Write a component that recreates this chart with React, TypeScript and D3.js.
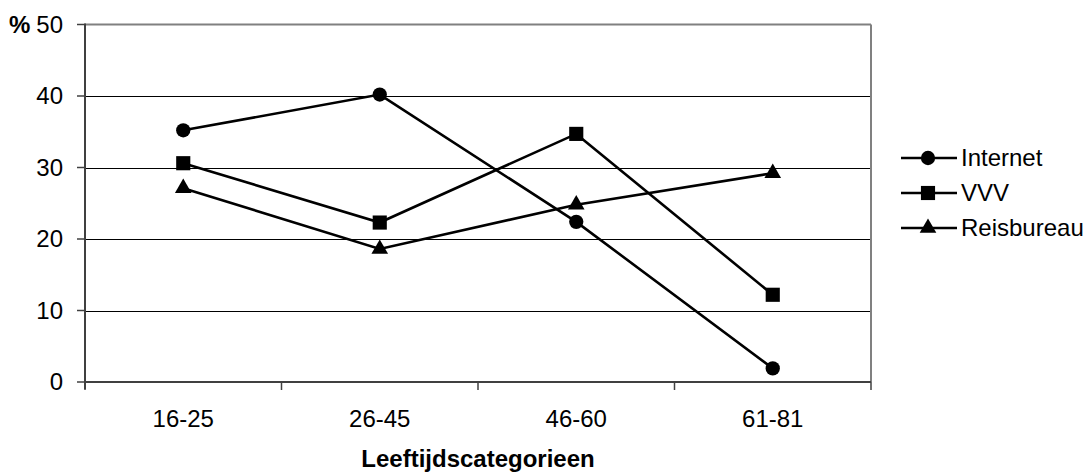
import React from "react";
import * as d3 from "d3";

const categories = ["16-25", "26-45", "46-60", "61-81"];
const internet = [35.2, 40.2, 22.4, 1.9];
const vvv = [30.6, 22.3, 34.7, 12.2];
const reisbureau = [27.1, 18.6, 24.8, 29.2];
const yTicks = [0, 10, 20, 30, 40, 50];
const seriesNames = ["Internet", "VVV", "Reisbureau"];
const seriesSymbols = [d3.symbolCircle, d3.symbolSquare, d3.symbolTriangle];

const W = 1085;
const H = 474;
const left = 85;
const right = 871;
const top = 24.5;
const bottom = 382;
const FONT = "'Liberation Sans', Arial, sans-serif";
const FS = 24;

export default function App() {
  const x = d3.scaleBand<string>().domain(categories).range([left, right]);
  const y = d3.scaleLinear().domain([0, 50]).range([bottom, top]);
  const series = [internet, vvv, reisbureau];
  const line = d3
    .line<number>()
    .x((_, i) => (x(categories[i]) as number) + x.bandwidth() / 2)
    .y((d) => y(d));
  const symSizes = [160, 200, 120];
  const sym = (i: number) => d3.symbol().type(seriesSymbols[i]).size(symSizes[i])() as string;
  const tickEdges = [...categories.map((c) => x(c) as number), right];
  const legendY = [158, 193, 228];

  return (
    <svg
      width={W}
      height={H}
      style={{ position: "absolute", left: 0, top: 0, background: "#fff" }}
      fontFamily={FONT}
    >
      <rect x={0} y={0} width={W} height={H} fill="#fff" />
      {yTicks
        .filter((t) => t > 0 && t < 50)
        .map((t) => (
          <line key={t} x1={left} x2={right} y1={Math.round(y(t)) + 0.5} y2={Math.round(y(t)) + 0.5} stroke="#000" strokeWidth={1} />
        ))}
      <line x1={left} x2={right} y1={top} y2={top} stroke="#808080" strokeWidth={2} />
      <line x1={right} x2={right} y1={top} y2={bottom} stroke="#808080" strokeWidth={2} />
      <line x1={left} x2={left} y1={top - 1} y2={bottom + 7} stroke="#404040" strokeWidth={2} />
      <line x1={left} x2={right} y1={bottom} y2={bottom} stroke="#404040" strokeWidth={2} />
      {yTicks.map((t) => (
        <g key={t}>
          <line x1={left - 8} x2={left} y1={y(t)} y2={y(t)} stroke="#404040" strokeWidth={1.5} />
          <text x={63} y={y(t)} dy="0.35em" textAnchor="end" fontSize={FS}>
            {t}
          </text>
        </g>
      ))}
      <text x={9} y={y(50)} dy="0.35em" fontSize={FS} fontWeight="bold">
        %
      </text>
      {tickEdges.map((e, i) => (
        <line key={i} x1={e} x2={e} y1={bottom} y2={bottom + 8} stroke="#404040" strokeWidth={1.5} />
      ))}
      {categories.map((c) => (
        <text key={c} x={(x(c) as number) + x.bandwidth() / 2} y={427} textAnchor="middle" fontSize={FS}>
          {c}
        </text>
      ))}
      <text x={(left + right) / 2} y={467} textAnchor="middle" fontSize={FS} fontWeight="bold">
        Leeftijdscategorieen
      </text>
      {series.map((s, si) => (
        <g key={si}>
          <path d={line(s) as string} fill="none" stroke="#000" strokeWidth={2.6} />
          {s.map((v, i) => (
            <path
              key={i}
              d={sym(si)}
              transform={`translate(${(x(categories[i]) as number) + x.bandwidth() / 2},${y(v)})`}
              fill="#000"
            />
          ))}
        </g>
      ))}
      {seriesNames.map((n, i) => (
        <g key={n}>
          <line x1={901} x2={957} y1={legendY[i]} y2={legendY[i]} stroke="#000" strokeWidth={2.6} />
          <path d={sym(i)} transform={`translate(928,${legendY[i]})`} fill="#000" />
          <text x={961} y={legendY[i]} dy="0.35em" fontSize={FS}>
            {n}
          </text>
        </g>
      ))}
    </svg>
  );
}
